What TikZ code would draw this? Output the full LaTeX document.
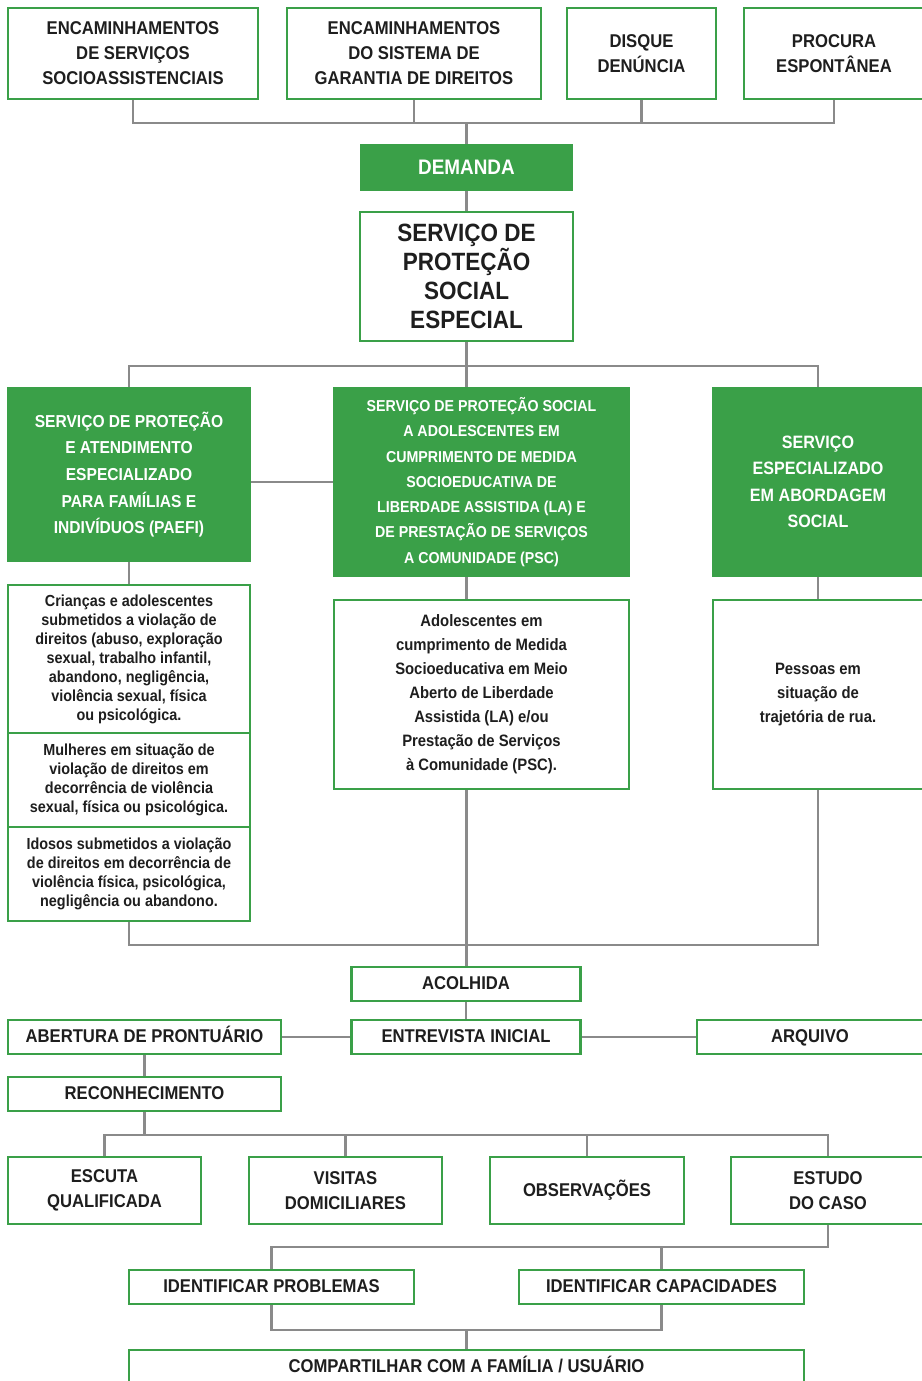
\documentclass[tikz,border=0pt]{standalone}
\usepackage{fontspec}
\setmainfont[FakeStretch=0.9]{Liberation Sans}
\usepackage{xcolor}
\usepackage{tikz}
\usetikzlibrary{positioning}
\definecolor{cmgreen}{RGB}{58,160,72}
\definecolor{cmgray}{RGB}{138,138,138}
\definecolor{cmtext}{RGB}{30,30,30}

\begin{document}
\begin{tikzpicture}[x=1pt,y=-1pt,
  box/.style={draw=cmgreen, line width=2.5pt, fill=white, text=cmtext,
    align=center, inner sep=0pt, font=\bfseries\fontsize{18.5}{25}\selectfont},
  fillbox/.style={box, fill=cmgreen, text=white},
  svc/.style={fillbox, font=\bfseries\fontsize{17.3}{26.6}\selectfont},
  desc/.style={box, font=\bfseries\fontsize{16}{19}\selectfont},
  stage/.style={box, minimum height=34, text height=13.5pt, text depth=3.5pt},
  link/.style={draw=cmgray, line width=2.5pt}
]
\useasboundingbox (0,0) rectangle (921,1381);

\node[box, minimum width=250, minimum height=91] (encsocio) at (133,53.5)
  {ENCAMINHAMENTOS\\DE SERVIÇOS\\SOCIOASSISTENCIAIS};
\node[box, minimum width=254, minimum height=91] (encgarantia) at (414,53.5)
  {ENCAMINHAMENTOS\\DO SISTEMA DE\\GARANTIA DE DIREITOS};
\node[box, minimum width=149, minimum height=91] (disque) at (641.5,53.5)
  {DISQUE\\DENÚNCIA};
\node[box, minimum width=180, minimum height=91] (procura) at (834,53.5)
  {PROCURA\\ESPONTÂNEA};

\node[fillbox, minimum width=211, minimum height=45,
  font=\bfseries\fontsize{21}{25}\selectfont] (demanda) at (466.5,167.5) {DEMANDA};
\node[box, minimum width=213, minimum height=129,
  font=\bfseries\fontsize{25}{29.2}\selectfont] (spse) at (466.5,276.5)
  {SERVIÇO DE\\PROTEÇÃO\\SOCIAL\\ESPECIAL};

\node[svc, minimum width=242, minimum height=173] (paefi) at (129,474.5)
  {SERVIÇO DE PROTEÇÃO\\E ATENDIMENTO\\ESPECIALIZADO\\PARA FAMÍLIAS E\\INDIVÍDUOS (PAEFI)};
\node[svc, minimum width=295, minimum height=188,
  font=\bfseries\fontsize{15.8}{25.3}\selectfont] (medida) at (481.5,482)
  {SERVIÇO DE PROTEÇÃO SOCIAL\\A ADOLESCENTES EM\\CUMPRIMENTO DE MEDIDA\\SOCIOEDUCATIVA DE\\LIBERDADE ASSISTIDA (LA) E\\DE PRESTAÇÃO DE SERVIÇOS\\A COMUNIDADE (PSC)};
\node[svc, minimum width=210, minimum height=188,
  font=\bfseries\fontsize{17.9}{26.4}\selectfont] (abordagem) at (818,482)
  {SERVIÇO\\ESPECIALIZADO\\EM ABORDAGEM\\SOCIAL};

\node[desc, minimum width=242, minimum height=148] (criancas) at (129,659)
  {Crianças e adolescentes\\submetidos a violação de\\direitos (abuso, exploração\\sexual, trabalho infantil,\\abandono, negligência,\\violência sexual, física\\ou psicológica.};
\node[desc, minimum width=242, minimum height=94] (mulheres) at (129,780)
  {Mulheres em situação de\\violação de direitos em\\decorrência de violência\\sexual, física ou psicológica.};
\node[desc, minimum width=242, minimum height=94] (idosos) at (129,874)
  {Idosos submetidos a violação\\de direitos em decorrência de\\violência física, psicológica,\\negligência ou abandono.};
\node[desc, minimum width=295, minimum height=189,
  font=\bfseries\fontsize{16.5}{24}\selectfont] (adol) at (481.5,694.5)
  {Adolescentes em\\cumprimento de Medida\\Socioeducativa em Meio\\Aberto de Liberdade\\Assistida (LA) e/ou\\Prestação de Serviços\\à Comunidade (PSC).};
\node[desc, minimum width=210, minimum height=189,
  font=\bfseries\fontsize{16.5}{24}\selectfont] (rua) at (818,694.5)
  {Pessoas em\\situação de\\trajetória de rua.};

\node[stage, minimum width=229] (acolhida) at (466,984) {ACOLHIDA};
\node[stage, minimum width=229] (entrevista) at (466,1037) {ENTREVISTA INICIAL};
\node[stage, minimum width=273] (abertura) at (144.5,1037) {ABERTURA DE PRONTUÁRIO};
\node[stage, minimum width=226] (arquivo) at (810,1037) {ARQUIVO};
\node[stage, minimum width=273] (reconhecimento) at (144.5,1094) {RECONHECIMENTO};

\node[box, minimum width=193, minimum height=67] (escuta) at (104.5,1190.5) {ESCUTA\\QUALIFICADA};
\node[box, minimum width=193, minimum height=67] (visitas) at (345.5,1190.5) {VISITAS\\DOMICILIARES};
\node[box, minimum width=194, minimum height=67] (observacoes) at (587,1190.5) {OBSERVAÇÕES};
\node[box, minimum width=194, minimum height=67] (estudo) at (828,1190.5) {ESTUDO\\DO CASO};

\node[stage, minimum width=285] (problemas) at (271.5,1287) {IDENTIFICAR PROBLEMAS};
\node[stage, minimum width=285] (capacidades) at (661.5,1287) {IDENTIFICAR CAPACIDADES};
\node[stage, minimum width=675] (compartilhar) at (466.5,1367) {COMPARTILHAR COM A FAMÍLIA / USUÁRIO};

\coordinate (topbus) at (466.5,123);
\coordinate (spsebus) at (466.5,366);
\coordinate (psebus) at (466.5,945);
\coordinate (tecbus) at (144.5,1135);
\coordinate (idbus) at (271.5,1247);
\coordinate (finbus) at (466.5,1330);

\draw[link] (encsocio.south) |- (topbus) -| (procura.south);
\draw[link] (encgarantia.south) -- (encgarantia.south |- topbus);
\draw[link] (disque.south) -- (disque.south |- topbus);
\draw[link] (topbus) -- (demanda.north);
\draw[link] (demanda.south) -- (spse.north);
\draw[link] (spse.south) -- (medida.north -| spse.south);
\draw[link] (paefi.north) |- (spsebus) -| (abordagem.north);
\draw[link] (medida.west |- 0,482) -- (paefi.east |- 0,482);
\draw[link] (paefi.south) -- (criancas.north);
\draw[link] (medida.south -| spse.south) -- (adol.north -| spse.south);
\draw[link] (abordagem.south) -- (rua.north);
\draw[link] (idosos.south) |- (psebus) -| (rua.south);
\draw[link] (adol.south -| spse.south) -- (acolhida.north -| spse.south);
\draw[link] (acolhida) -- (entrevista);
\draw[link] (abertura) -- (entrevista);
\draw[link] (entrevista) -- (arquivo);
\draw[link] (abertura) -- (reconhecimento);
\draw[link] (reconhecimento.south) -- (tecbus);
\draw[link] (escuta.north) |- (tecbus) -| (estudo.north);
\draw[link] (visitas.north) -- (visitas.north |- tecbus);
\draw[link] (observacoes.north) -- (observacoes.north |- tecbus);
\draw[link] (estudo.south) |- (idbus) -- (problemas.north);
\draw[link] (capacidades.north) -- (capacidades.north |- idbus);
\draw[link] (problemas.south) |- (finbus) -| (capacidades.south);
\draw[link] (finbus) -- (compartilhar.north);
\end{tikzpicture}
\end{document}
